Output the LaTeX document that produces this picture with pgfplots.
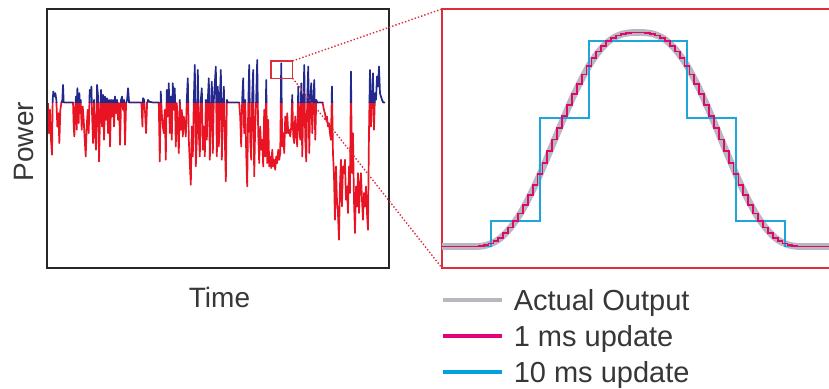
\documentclass[border=0pt]{standalone}
\usepackage{pgfplots}
\pgfplotsset{compat=1.18}
\usepackage{pgfplotstable}
\usepackage{fontspec}
\setmainfont{Liberation Sans}
\definecolor{navy}{RGB}{35,40,140}
\definecolor{sigred}{RGB}{232,20,35}
\definecolor{actgray}{RGB}{185,183,190}
\definecolor{msmag}{RGB}{220,10,110}
\definecolor{legmag}{RGB}{228,0,125}
\definecolor{msblue}{RGB}{30,165,220}
\definecolor{legblue}{RGB}{0,160,225}
\definecolor{zoomred}{RGB}{222,45,60}
\definecolor{txt}{RGB}{55,55,55}

\pgfplotstableread{
x P
25 495
28 405
31 475
34 385
37 340
39 505
41 530
44 515
47 525
50 505
53 425
56 465
59 375
62 475
65 495
68 505
70 550
72 497
100 497
102 425
104 395
106 475
109 515
111 415
113 540
115 505
117 435
119 525
121 465
123 505
126 415
129 485
132 445
135 385
138 335
141 425
144 475
147 405
150 535
152 515
155 545
157 465
160 375
163 505
166 405
169 355
172 550
175 515
178 320
181 455
184 535
187 425
190 520
193 385
196 515
199 445
202 510
205 405
208 505
211 365
214 505
217 455
220 505
223 425
226 515
229 465
232 505
235 445
238 495
241 370
244 505
247 515
250 475
253 505
256 370
259 495
262 505
265 540
268 497
305 497
308 425
310 510
313 505
316 465
319 405
322 495
325 505
328 500
340 497
357 497
360 320
363 530
366 465
369 425
372 405
375 475
378 325
381 535
384 455
387 555
390 405
393 515
396 385
399 555
402 475
405 540
408 365
411 495
414 425
417 345
420 505
423 415
426 475
429 395
432 455
435 425
438 395
441 505
444 570
447 385
450 315
453 250
456 425
459 335
462 505
465 610
468 305
471 385
474 595
477 405
480 335
483 505
486 540
489 355
492 425
495 335
498 505
501 385
504 505
507 570
510 325
513 475
516 560
519 345
522 505
525 555
528 605
531 335
534 545
537 365
540 505
543 595
546 325
549 475
552 545
555 385
558 260
561 505
564 497
598 497
601 455
604 365
607 505
610 570
613 405
616 505
619 345
622 245
625 475
628 610
631 385
634 325
637 515
640 595
643 275
646 425
649 505
652 625
655 405
658 315
661 425
664 355
667 385
670 305
673 475
676 335
679 565
682 315
685 445
688 305
691 335
694 300
697 355
700 305
703 325
706 295
709 335
712 315
715 355
718 325
721 345
724 615
727 365
730 405
733 345
736 455
739 405
742 465
745 405
748 415
751 395
754 425
757 520
760 395
763 375
766 455
769 405
772 365
775 545
778 425
781 385
784 555
787 335
790 475
793 610
796 385
799 320
802 505
805 605
808 345
811 505
814 555
817 405
820 495
823 565
826 385
829 505
832 497
848 497
852 475
855 465
858 445
861 455
864 425
867 435
870 405
873 385
876 545
879 345
882 285
885 145
888 305
891 205
894 165
897 85
900 245
903 325
906 185
909 305
912 285
915 325
918 205
921 245
924 165
927 305
930 225
933 590
936 285
939 405
942 205
945 105
948 245
951 185
954 285
957 165
960 245
963 285
966 205
969 145
972 225
975 185
978 245
981 165
984 115
987 405
990 595
993 425
996 505
999 585
1002 415
1005 525
1008 505
1011 575
1014 545
1017 605
1020 525
1023 515
1026 505
1030 497
1035 497
}\signal

\pgfplotstableread{
t v
0 0
1 0
2 0
3 0
4 0
5 0
6 0
7 0.000
8 0.002
9 0.006
10 0.014
11 0.025
12 0.041
13 0.063
14 0.089
15 0.120
16 0.155
17 0.196
18 0.240
19 0.287
20 0.338
21 0.391
22 0.445
23 0.500
24 0.555
25 0.609
26 0.662
27 0.713
28 0.760
29 0.804
30 0.845
31 0.880
32 0.911
33 0.937
34 0.959
35 0.975
36 0.986
37 0.994
38 0.998
39 1.000
40 1.000
41 1.000
42 0.998
43 0.994
44 0.986
45 0.975
46 0.959
47 0.937
48 0.911
49 0.880
50 0.845
51 0.804
52 0.760
53 0.713
54 0.662
55 0.609
56 0.555
57 0.500
58 0.445
59 0.391
60 0.338
61 0.287
62 0.240
63 0.196
64 0.155
65 0.120
66 0.089
67 0.063
68 0.041
69 0.025
70 0.014
71 0.006
72 0.002
73 0.000
74 0
75 0
76 0
77 0
78 0
79 0
80 0
81 0
}\actual

\pgfplotstableread{
t v
-5 0
5 0
15 0.12
25 0.60
35 0.96
45 0.96
55 0.60
65 0.12
75 0
85 0
}\tenms

\begin{document}
\begin{tikzpicture}
\path[use as bounding box] (0,0) rectangle (414.5pt,194.5pt);
\pgfplotsset{leftbase/.style={scale only axis, width=171pt, xmin=22, xmax=1047,
  xtick=\empty, ytick=\empty, anchor=south west}}
% below threshold: red
\begin{axis}[leftbase, at={(23.5pt,60.5pt)}, height=82.73pt, ymin=0, ymax=497, axis lines=none]
\addplot[sigred, line width=0.85pt, line join=round] table[x=x,y=P]{\signal};
\end{axis}
% above threshold: navy
\begin{axis}[leftbase, at={(23.5pt,143.23pt)}, height=46.77pt, ymin=497, ymax=778, axis lines=none]
\addplot[navy, line width=0.85pt, line join=round] table[x=x,y=P]{\signal};
\end{axis}
% frame with labels
\begin{axis}[leftbase, at={(23.5pt,60.5pt)}, height=129.5pt, ymin=0, ymax=778,
  axis line style={draw=black!85, line width=1.1pt},
  xlabel={Time}, ylabel={Power},
  label style={font=\fontsize{14}{17}\selectfont, text=txt},
  xlabel style={at={(axis description cs:0.5044,-0.1506)}, anchor=base},
  ylabel style={at={(axis description cs:-0.0409,0.4876)}, anchor=base}]
\draw[zoomred, line width=0.7pt] (axis cs:693,570) rectangle (axis cs:758,622);
\coordinate (zt) at (axis cs:758,622);
\coordinate (zb) at (axis cs:758,570);
\end{axis}
% right zoomed panel
\begin{axis}[name=R, scale only axis, anchor=south west, at={(221pt,60.5pt)},
  width=196pt, height=129.5pt, xmin=0, xmax=80, ymin=-0.1, ymax=1.11,
  xtick=\empty, ytick=\empty, axis line style={draw=zoomred, line width=1pt}]
\addplot[actgray, line width=3.4pt, smooth] table[x=t,y=v]{\actual};
\addplot[msblue, line width=0.8pt, const plot mark mid] table[x=t,y=v]{\tenms};
\addplot[msmag, line width=0.9pt, const plot mark mid] table[x=t,y=v]{\actual};
\end{axis}
\draw[zoomred, densely dotted, line width=0.7pt] (zt) -- (R.north west);
\draw[zoomred, densely dotted, line width=0.7pt] (zb) -- (R.south west);
% legend
\draw[actgray, line width=2pt] (221.4pt,44.6pt) -- (250.9pt,44.6pt);
\node[anchor=base west, inner sep=0, text=txt, font=\fontsize{14.5}{17}\selectfont] at (256.7pt,39.1pt) {Actual Output};
\draw[legmag, line width=2pt] (221.4pt,26.4pt) -- (250.9pt,26.4pt);
\node[anchor=base west, inner sep=0, text=txt, font=\fontsize{14.5}{17}\selectfont] at (256.7pt,21.2pt) {1 ms update};
\draw[legblue, line width=2pt] (221.4pt,8.4pt) -- (250.9pt,8.4pt);
\node[anchor=base west, inner sep=0, text=txt, font=\fontsize{14.5}{17}\selectfont] at (256.7pt,3.3pt) {10 ms update};
\end{tikzpicture}
\end{document}
